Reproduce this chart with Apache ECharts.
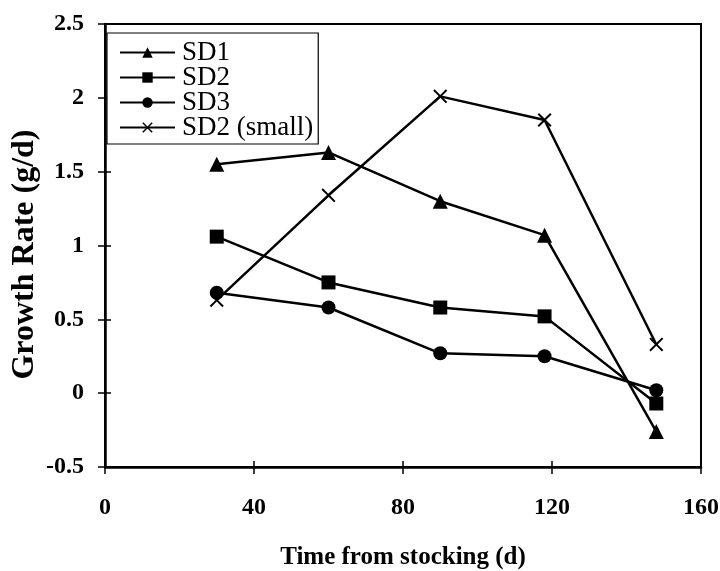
<!DOCTYPE html>
<html>
<head>
<meta charset="utf-8">
<script src="https://cdn.jsdelivr.net/npm/echarts@6/dist/echarts.min.js"></script>
<style>
  html, body { margin: 0; padding: 0; background: #fff; }
  #chart { width: 720px; height: 571px; }
</style>
</head>
<body>
<div id="chart"></div>
<script>
// Sampling days after stocking
const days = [30, 60, 90, 118, 148];

// Growth rate (g/d) per stocking density
const sd1 = [1.55, 1.63, 1.30, 1.07, -0.26];
const sd2 = [1.06, 0.75, 0.58, 0.52, -0.07];
const sd3 = [0.68, 0.58, 0.27, 0.25, 0.02];
const sd2Small = [0.63, 1.34, 2.01, 1.85, 0.33];

const seriesNames = ['SD1', 'SD2', 'SD3', 'SD2 (small)'];

const font = '"Liberation Serif", "Times New Roman", serif';
const crossPath = 'path://M0,1 L1,0 L5,4 L9,0 L10,1 L6,5 L10,9 L9,10 L5,6 L1,10 L0,9 L4,5 Z';

function pairs(xs, ys) { return xs.map((x, i) => [x, ys[i]]); }

function lineSeries(name, values, symbol, size) {
  return {
    name: name,
    type: 'line',
    data: pairs(days, values),
    symbol: symbol,
    symbolSize: size,
    showSymbol: true,
    lineStyle: { color: '#000', width: 2.5 },
    itemStyle: { color: '#000', borderColor: '#000', borderWidth: 0 },
    emphasis: { disabled: true },
    animation: false,
    z: 3
  };
}

const labelStyle = { fontFamily: font, fontSize: 24, fontWeight: 'bold', color: '#000' };
const tickStyle = { color: '#000', width: 1.5 };

const chart = echarts.init(document.getElementById('chart'));
chart.setOption({
  backgroundColor: '#fff',
  animation: false,
  grid: {
    left: 105, right: 19, top: 24, bottom: 104,
    outerBoundsMode: 'none',
    containLabel: false,
    show: true, borderColor: '#000', borderWidth: 2, backgroundColor: 'transparent'
  },
  legend: {
    orient: 'vertical',
    left: 107, top: 33,
    data: seriesNames,
    itemWidth: 55, itemHeight: 13, itemGap: -2,
    padding: [6, 5, 3, 12],
    borderColor: '#000', borderWidth: 1.2,
    backgroundColor: '#fff',
    textStyle: { fontFamily: font, fontSize: 27, color: '#000', lineHeight: 25, padding: [0, 0, 0, 2] },
    selectedMode: false
  },
  xAxis: [
    {
      type: 'value', min: 0, max: 160, interval: 40,
      position: 'bottom',
      name: 'Time from stocking (d)',
      nameLocation: 'middle',
      nameGap: 78,
      nameMoveOverlap: false,
      nameTextStyle: { fontFamily: font, fontSize: 25, fontWeight: 'bold', color: '#000' },
      axisLine: { show: true, onZero: false, lineStyle: { color: '#000', width: 2.5 } },
      axisTick: { show: true, inside: false, length: 7, lineStyle: tickStyle },
      axisLabel: Object.assign({ margin: 29 }, labelStyle),
      splitLine: { show: false }
    },
    {
      type: 'value', min: 0, max: 160, interval: 40,
      position: 'bottom',
      axisLine: { show: false, onZero: false },
      axisTick: { show: true, inside: true, length: 6, lineStyle: tickStyle },
      axisLabel: { show: false },
      splitLine: { show: false }
    }
  ],
  yAxis: [
    {
      type: 'value', min: -0.5, max: 2.5, interval: 0.5,
      position: 'left',
      name: 'Growth Rate (g/d)',
      nameLocation: 'middle',
      nameGap: 64,
      nameMoveOverlap: false,
      nameTextStyle: { fontFamily: font, fontSize: 32, fontWeight: 'bold', color: '#000', padding: [0, 0, 0, -18] },
      axisLine: { show: true, onZero: false, lineStyle: { color: '#000', width: 2.5 } },
      axisTick: { show: true, inside: false, length: 7, lineStyle: tickStyle },
      axisLabel: Object.assign({ margin: 21 }, labelStyle),
      splitLine: { show: false }
    },
    {
      type: 'value', min: -0.5, max: 2.5, interval: 0.5,
      position: 'left',
      axisLine: { show: false, onZero: false },
      axisTick: { show: true, inside: true, length: 6, lineStyle: tickStyle },
      axisLabel: { show: false },
      splitLine: { show: false }
    }
  ],
  series: [
    lineSeries('SD1', sd1, 'triangle', 15),
    lineSeries('SD2', sd2, 'rect', 14),
    lineSeries('SD3', sd3, 'circle', 14),
    lineSeries('SD2 (small)', sd2Small, crossPath, 14)
  ]
});
</script>
</body>
</html>
